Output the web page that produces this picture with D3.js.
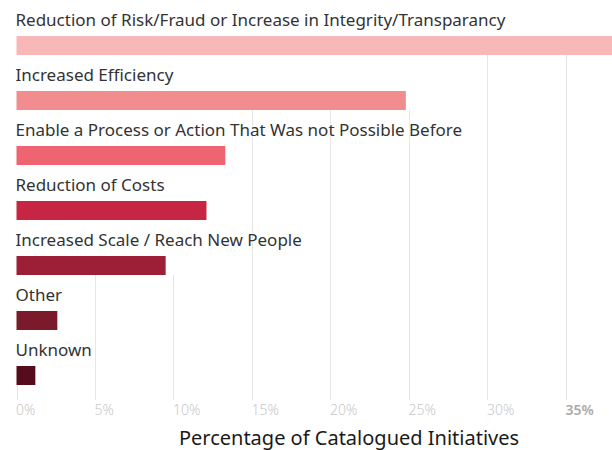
<!DOCTYPE html>
<html>
<head>
<meta charset="utf-8">
<script src="https://cdn.jsdelivr.net/npm/d3@7"></script>
<style>
    body { margin: 0; background: #fff; }
    text { font-family: "Noto Sans", "Open Sans", sans-serif; }
</style>
</head>
<body>
<div id="chart"></div>
<script>
// data
let categories = [
    "Reduction of Risk/Fraud or Increase in Integrity/Transparancy",
    "Increased Efficiency",
    "Enable a Process or Action That Was not Possible Before",
    "Reduction of Costs",
    "Increased Scale / Reach New People",
    "Other",
    "Unknown"
];
let values = [38.5, 24.8, 13.3, 12.1, 9.5, 2.6, 1.2];
let barColors = ["#f7b8b7", "#f18d8f", "#ee6470", "#c62644", "#9d1e37", "#7b1a2a", "#560d1b"];
let tickValues = [0, 5, 10, 15, 20, 25, 30, 35];

let width = 612, height = 450;

let svg = d3.select("#chart").append("svg")
    .attr("width", width)
    .attr("height", height);

let x = d3.scaleLinear()
    .domain([0, 35])
    .range([16.5, 566]);

let y = d3.scaleBand()
    .domain(categories)
    .range([0, 385]);

let barTop = 36, barHeight = 19, gridBottom = 400;

// gridlines start below the last row whose bar reaches the tick
let gridG = svg.append("g").attr("class", "grid");
tickValues.forEach(t => {
    let startY = 0;
    categories.forEach((c, i) => {
        if (x(values[i]) + 10 > x(t)) startY = y(c) + barTop + barHeight;
    });
    gridG.append("line")
        .attr("x1", Math.round(x(t)) + 0.5)
        .attr("x2", Math.round(x(t)) + 0.5)
        .attr("y1", startY)
        .attr("y2", gridBottom)
        .attr("stroke", "#e6e6e6")
        .attr("stroke-width", 1);
});

// bars
svg.selectAll(".bar")
    .data(categories)
    .join("rect")
    .attr("class", "bar")
    .attr("x", x(0))
    .attr("y", d => y(d) + barTop)
    .attr("width", (d, i) => x(values[i]) - x(0))
    .attr("height", barHeight)
    .attr("fill", (d, i) => barColors[i]);

// labels above bars
svg.selectAll(".label")
    .data(categories)
    .join("text")
    .attr("class", "label")
    .attr("x", x(0) - 1)
    .attr("y", d => y(d) + 26)
    .attr("font-size", "17px")
    .attr("fill", "#333")
    .attr("stroke", "#fff")
    .attr("stroke-width", 2)
    .attr("paint-order", "stroke")
    .text(d => d);

// x axis tick labels
let xAxis = d3.axisBottom(x)
    .tickValues(tickValues)
    .tickSize(0)
    .tickFormat(d => d + "%");

let xAxisGroup = svg.append("g")
    .attr("class", "x-axis")
    .attr("transform", "translate(0, " + 402 + ")")
    .call(xAxis);

xAxisGroup.select(".domain").remove();
xAxisGroup.selectAll("text")
    .attr("text-anchor", "start")
    .attr("x", -1)
    .attr("dy", "0.71em")
    .attr("font-size", "14px")
    .attr("font-family", "\"Noto Sans\", sans-serif")
    .attr("fill", d => d === 35 ? "#aaa" : "#c8c8c8")
    .attr("font-weight", d => d === 35 ? 600 : 300);

svg.append("text")
    .attr("x", 349)
    .attr("y", 445)
    .attr("text-anchor", "middle")
    .attr("font-size", "20px")
    .attr("fill", "#1a1a1a")
    .text("Percentage of Catalogued Initiatives");
</script>
</body>
</html>
